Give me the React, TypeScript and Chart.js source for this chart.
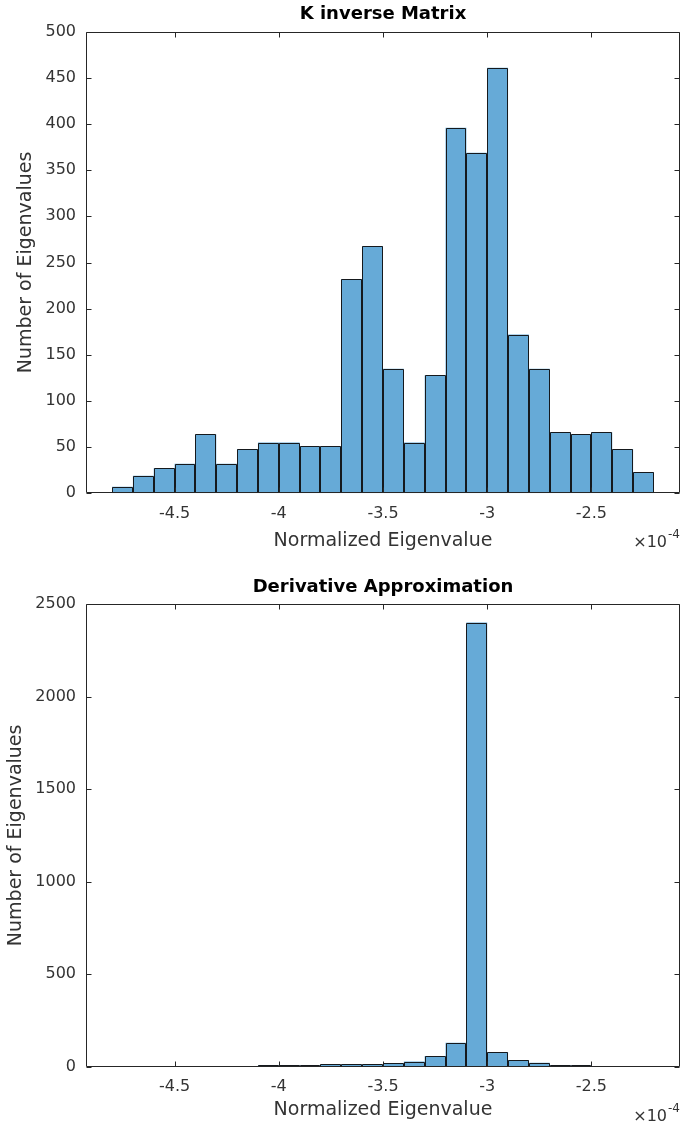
import { useEffect, useRef } from "react";
import { Chart, registerables } from "chart.js";

Chart.register(...registerables);

// Histogram bin centres (units of 1e-4) and counts
const kInverseBinCenters = [
  -4.75, -4.65, -4.55, -4.45, -4.35, -4.25, -4.15, -4.05, -3.95, -3.85, -3.75, -3.65, -3.55,
  -3.45, -3.35, -3.25, -3.15, -3.05, -2.95, -2.85, -2.75, -2.65, -2.55, -2.45, -2.35, -2.25,
];
const kInverseCounts = [
  7, 19, 27, 32, 64, 32, 48, 55, 55, 51, 51, 232, 268, 135, 55, 128, 396, 369, 461, 172, 135,
  66, 64, 66, 48, 23,
];

const derivativeBinCenters = [
  -4.05, -3.95, -3.85, -3.75, -3.65, -3.55, -3.45, -3.35, -3.25, -3.15, -3.05, -2.95, -2.85,
  -2.75, -2.65, -2.55,
];
const derivativeCounts = [8, 7, 7, 12, 12, 12, 18, 28, 58, 130, 2400, 80, 36, 22, 8, 7];

const xTickValues = [-4.5, -4, -3.5, -3, -2.5];
const xLimits = [-4.925, -2.075];
const kInverseYTicks = [0, 50, 100, 150, 200, 250, 300, 350, 400, 450, 500];
const derivativeYTicks = [0, 500, 1000, 1500, 2000, 2500];

const FONT = '"DejaVu Sans", sans-serif';
const AXIS_COLOR = "#262626";
const TEXT_COLOR = "#333333";
const BAR_FILL = "rgb(102,170,215)";
const BAR_EDGE = "#15191d";

// Bar outlines (from the bar elements' geometry), box around the plot area,
// inward tick marks on all four sides and the x10^-4 exponent
const axesFrame = {
  id: "axesFrame",
  afterDatasetsDraw(chart: any) {
    const { ctx, chartArea: a, scales } = chart;
    const xs = scales.x;
    const ys = scales.y;
    ctx.save();

    // bar edges
    ctx.strokeStyle = BAR_EDGE;
    ctx.lineWidth = 1;
    ctx.beginPath();
    for (const bar of chart.getDatasetMeta(0).data as any[]) {
      const { x, y, base, width } = bar.getProps(["x", "y", "base", "width"], true);
      const l = Math.round(x - width / 2) + 0.5;
      const r = Math.round(x + width / 2) - 0.5;
      const t = Math.round(y) + 0.5;
      const b = Math.round(base);
      ctx.moveTo(l, b);
      ctx.lineTo(l, t);
      ctx.lineTo(r, t);
      ctx.lineTo(r, b);
    }
    ctx.stroke();

    // axes box and ticks
    const tick = 5;
    const L = Math.round(a.left) + 0.5;
    const R = Math.round(a.right) - 0.5;
    const T = Math.round(a.top) + 0.5;
    const B = Math.round(a.bottom) - 0.5;
    ctx.strokeStyle = AXIS_COLOR;
    ctx.beginPath();
    ctx.rect(L, T, R - L, B - T);
    for (const tk of xs.ticks) {
      const px = Math.round(xs.getPixelForValue(tk.value)) + 0.5;
      ctx.moveTo(px, B);
      ctx.lineTo(px, B - tick);
      ctx.moveTo(px, T);
      ctx.lineTo(px, T + tick);
    }
    for (const tk of ys.ticks) {
      const py = Math.round(ys.getPixelForValue(tk.value)) + 0.5;
      ctx.moveTo(L, py);
      ctx.lineTo(L + tick, py);
      ctx.moveTo(R, py);
      ctx.lineTo(R - tick, py);
    }
    ctx.stroke();

    // exponent label
    const baseY = a.bottom + 54;
    ctx.fillStyle = TEXT_COLOR;
    ctx.textBaseline = "alphabetic";
    ctx.textAlign = "right";
    ctx.font = `12px ${FONT}`;
    ctx.fillText("-4", a.right, baseY - 9);
    const supW = ctx.measureText("-4").width;
    ctx.font = `16px ${FONT}`;
    ctx.fillText("\u00d710", a.right - supW - 1, baseY);
    ctx.restore();
  },
};

type PanelProps = {
  title: string;
  centers: number[];
  counts: number[];
  yTicks: number[];
  height: number;
  areaTop: number;
  areaBottom: number;
  titleCenterY: number;
  yTitleCenterX: number;
  xTitleCenterFromBottom: number;
};

function HistogramPanel(p: PanelProps) {
  const ref = useRef<HTMLCanvasElement | null>(null);

  useEffect(() => {
    if (!ref.current) return;
    const areaLeft = 86;
    const titleFont = 18;
    const titleLine = titleFont * 1.2;
    const titlePadTop = p.titleCenterY - titleLine / 2;
    const titlePadBottom = p.areaTop - titlePadTop - titleLine;
    const labelFont = 19;
    const leftPad = p.yTitleCenterX - (labelFont * 1.2) / 2;

    const chart = new Chart(ref.current, {
      type: "bar",
      data: {
        datasets: [
          {
            data: p.centers.map((c, i) => ({ x: c, y: p.counts[i] })),
            backgroundColor: BAR_FILL,
            borderWidth: 0,
            barPercentage: 1,
            categoryPercentage: 1,
            inflateAmount: 0,
          },
        ],
      },
      options: {
        animation: false,
        responsive: false,
        maintainAspectRatio: false,
        layout: { padding: { left: leftPad, right: 2, top: 0, bottom: 0 } },
        plugins: {
          legend: { display: false },
          tooltip: { enabled: false },
          title: {
            display: true,
            text: p.title,
            fullSize: false,
            color: "#000000",
            font: { family: FONT, size: titleFont, weight: "bold" },
            padding: { top: titlePadTop, bottom: titlePadBottom },
          },
        },
        scales: {
          x: {
            type: "linear",
            offset: false,
            min: xLimits[0],
            max: xLimits[1],
            grid: { display: false, drawTicks: false },
            border: { display: false },
            afterBuildTicks: (s: any) => {
              s.ticks = xTickValues.map((v) => ({ value: v }));
            },
            afterFit: (s: any) => {
              s.height = p.height - p.areaBottom;
            },
            ticks: {
              padding: 11,
              color: TEXT_COLOR,
              font: { family: FONT, size: 16 },
              maxRotation: 0,
              autoSkip: false,
              callback: (v: any) => String(v),
            },
            title: {
              display: true,
              text: "Normalized Eigenvalue",
              color: TEXT_COLOR,
              font: { family: FONT, size: labelFont },
              padding: { top: 0, bottom: p.xTitleCenterFromBottom - (labelFont * 1.2) / 2 },
            },
          },
          y: {
            type: "linear",
            min: p.yTicks[0],
            max: p.yTicks[p.yTicks.length - 1],
            grid: { display: false, drawTicks: false },
            border: { display: false },
            afterBuildTicks: (s: any) => {
              s.ticks = p.yTicks.map((v) => ({ value: v }));
            },
            afterFit: (s: any) => {
              s.width = areaLeft - leftPad;
            },
            ticks: {
              padding: 10,
              color: TEXT_COLOR,
              font: { family: FONT, size: 16 },
              autoSkip: false,
              callback: (v: any) => String(v),
            },
            title: {
              display: true,
              text: "Number of Eigenvalues",
              color: TEXT_COLOR,
              font: { family: FONT, size: labelFont },
              padding: { top: 0, bottom: 0 },
            },
          },
        },
      },
      plugins: [axesFrame],
    });
    return () => chart.destroy();
  }, []);

  return (
    <canvas
      ref={ref}
      width={682}
      height={p.height}
      style={{ display: "block", width: 682, height: p.height }}
    />
  );
}

export default function App() {
  return (
    <div
      style={{
        position: "fixed",
        left: 0,
        top: 0,
        width: 682,
        height: 1127,
        background: "#ffffff",
      }}
    >
      <HistogramPanel
        title="K inverse Matrix"
        centers={kInverseBinCenters}
        counts={kInverseCounts}
        yTicks={kInverseYTicks}
        height={560}
        areaTop={31.7}
        areaBottom={493.3}
        titleCenterY={14}
        yTitleCenterX={26}
        xTitleCenterFromBottom={19}
      />
      <HistogramPanel
        title="Derivative Approximation"
        centers={derivativeBinCenters}
        counts={derivativeCounts}
        yTicks={derivativeYTicks}
        height={567}
        areaTop={44}
        areaBottom={506.7}
        titleCenterY={27}
        yTitleCenterX={16}
        xTitleCenterFromBottom={17}
      />
    </div>
  );
}
